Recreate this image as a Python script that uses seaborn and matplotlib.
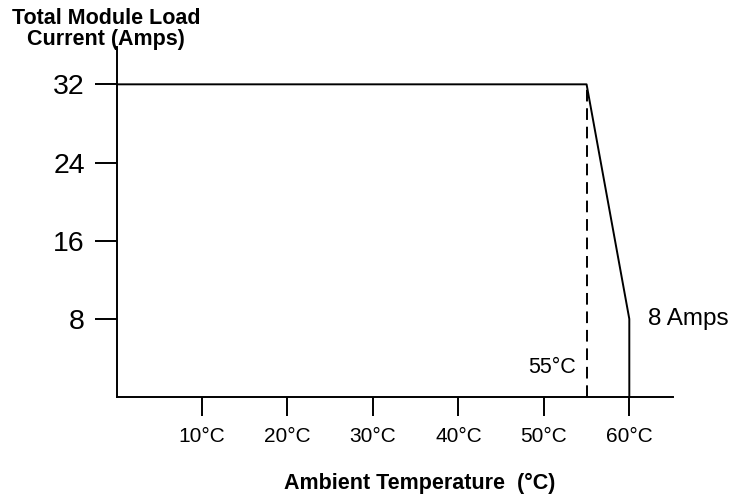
import matplotlib
matplotlib.use("Agg")
import matplotlib.pyplot as plt
import seaborn as sns
import pandas as pd

# Derating curve: load current versus ambient temperature
temperature_c = [0, 55, 60, 60]
load_current_a = [32, 32, 8, 0]

x_ticks = [10, 20, 30, 40, 50, 60]
x_tick_labels = ["10°C", "20°C", "30°C", "40°C", "50°C", "60°C"]
y_ticks = [8, 16, 24, 32]
y_tick_labels = ["8", "16", "24", "32"]

derate_start_c = 55
min_current_a = 8

sns.set_theme(style="white")
plt.rcParams["font.family"] = ["Liberation Sans", "DejaVu Sans"]
plt.rcParams["text.color"] = "black"
plt.rcParams["xtick.color"] = "black"
plt.rcParams["ytick.color"] = "black"
plt.rcParams["axes.labelcolor"] = "black"

df = pd.DataFrame({"temp": temperature_c, "current": load_current_a})

fig = plt.figure(figsize=(7.33, 4.94), dpi=100)
ax = fig.add_axes([0.159, 0.196, 0.759, 0.7085])

sns.lineplot(data=df, x="temp", y="current", sort=False, estimator=None,
             color="black", linewidth=1.4, ax=ax)

# dashed marker where derating begins
ax.plot([derate_start_c, derate_start_c], [0, max(load_current_a)],
        color="black", linewidth=1.4, dashes=(6, 3.5))

ax.set_xlim(0, 65.1)
ax.set_ylim(0, 35.8)

ax.set_xticks(x_ticks)
ax.set_xticklabels(x_tick_labels, fontsize=15, color="black")
ax.set_yticks(y_ticks)
ax.set_yticklabels(y_tick_labels, fontsize=20.5, color="black")

ax.tick_params(axis="x", direction="out", length=13.7, width=1.4,
               color="black", labelcolor="black", pad=8, bottom=True)
ax.tick_params(axis="y", direction="out", length=15.8, width=1.4,
               color="black", labelcolor="black", pad=7, left=True)

for side in ["top", "right"]:
    ax.spines[side].set_visible(False)
for side in ["left", "bottom"]:
    ax.spines[side].set_color("black")
    ax.spines[side].set_linewidth(1.4)

ax.set_xlabel("")
ax.set_ylabel("")

ax.text(53.7, 3.0, f"{derate_start_c}°C", ha="right",
        va="center", fontsize=15.5, color="black")
ax.text(62.2, min_current_a, f"{min_current_a} Amps", ha="left",
        va="center", fontsize=17.5, color="black")

fig.text(106 / 733, 1 - 29 / 494, "Total Module Load\nCurrent (Amps)",
         ha="center", va="center", fontsize=15.5, fontweight="bold",
         linespacing=1.05, color="black")
fig.text(419.5 / 733, 1 - 483 / 494, "Ambient Temperature  (°C)",
         ha="center", va="center", fontsize=15.5, fontweight="bold",
         color="black")

fig.savefig("out.png", dpi=100, facecolor="white")
